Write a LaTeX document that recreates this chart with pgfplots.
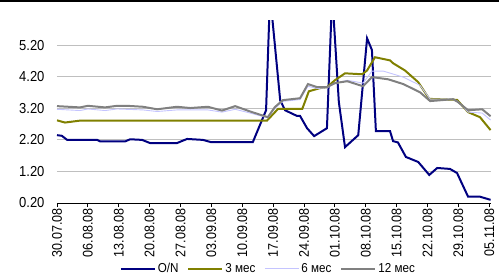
\documentclass[border=0pt]{standalone}
\usepackage{pgfplots}
\pgfplotsset{compat=1.18}
\usepackage{fontspec}
\setmainfont[FakeStretch=0.9]{Liberation Sans}
\definecolor{cON}{HTML}{000080}
\definecolor{cM3}{HTML}{808000}
\definecolor{cM6}{HTML}{C4C4FF}
\definecolor{cM12}{HTML}{808080}
\begin{document}
\begin{tikzpicture}[x=1bp,y=1bp]
\path[use as bounding box] (-57bp,-73bp) rectangle (442bp,203bp);
\draw[black, line width=1.6bp] (-57bp,202.2bp) -- (442bp,202.2bp);
\begin{axis}[
  at={(0,0)}, anchor=origin,
  scale only axis, width=434bp, height=183bp,
  xmin=0, xmax=98.4, ymin=0.2, ymax=6.0,
  axis x line*=bottom, axis y line*=left,
  y axis line style={draw=none},
  x axis line style={black, line width=0.9pt},
  ytick={0.2,1.2,2.2,3.2,4.2,5.2},
  yticklabels={0.20,1.20,2.20,3.20,4.20,5.20},
  ytick style={draw=none},
  ymajorgrids, grid style={color=black!25, line width=0.8pt},
  xtick={0,7,14,21,28,35,42,49,56,63,70,77,84,91,98},
  xticklabels={30.07.08,06.08.08,13.08.08,20.08.08,27.08.08,03.09.08,10.09.08,17.09.08,24.09.08,01.10.08,08.10.08,15.10.08,22.10.08,29.10.08,05.11.08},
  xtick style={black, line width=0.8pt},
  tick align=outside, major tick length=4bp,
  x tick label style={rotate=90, anchor=east, font=\fontsize{14}{15}\selectfont, inner sep=1bp},
  y tick label style={font=\fontsize{14.5}{15}\selectfont, xshift=-5bp},
  clip=true,
  legend columns=4,
  legend style={draw=none, fill=none, at={(0.487,-0.36)}, anchor=center,
     font=\fontsize{13}{14}\selectfont, inner sep=0pt,
     /tikz/every even column/.append style={column sep=7bp}},
  legend image code/.code={\draw[#1] (0bp,0bp) -- (34bp,0bp);},
]
\addplot[cON, line width=2pt] coordinates {
(0,2.35)(1.1,2.33)(2.3,2.2)(9.1,2.2)(9.8,2.15)(15.4,2.15)(16.6,2.22)(19.3,2.2)(21.1,2.1)(27.2,2.1)(29.5,2.23)(33.1,2.2)(34.9,2.13)(44.4,2.13)(47.4,3.14)(48.3,6.8)(50.6,3.46)(51.7,3.14)(54.4,2.96)(55.1,2.96)(56.7,2.57)(58.3,2.32)(61.2,2.57)(62.4,6.8)(63.9,3.4)(65.3,1.97)(68.3,2.35)(70.3,5.42)(71.4,5.05)(72.3,2.48)(75.5,2.48)(76.2,2.16)(77.3,2.12)(79.1,1.66)(81.9,1.5)(84.4,1.09)(86.2,1.31)(89.1,1.28)(90.7,1.15)(93.2,0.4)(95.9,0.4)(98.3,0.3)
};
\addlegendentry{O/N}
\addplot[cM3, line width=2pt] coordinates {
(0,2.82)(1.8,2.75)(5.2,2.81)(47.6,2.81)(50.1,3.18)(55.6,3.18)(57.1,3.74)(59.6,3.84)(61.2,3.87)(63,4.09)(65.3,4.31)(69.2,4.28)(70.3,4.4)(72.1,4.82)(75.5,4.72)(76.2,4.63)(78.9,4.4)(81.9,4.03)(84.4,3.5)(90.7,3.47)(93.2,3.08)(95.9,2.92)(98.3,2.51)
};
\addlegendentry{3 мес}
\addplot[cM6, line width=0.9pt] coordinates {
(0,3.17)(5.2,3.13)(7,3.18)(10.9,3.13)(13.6,3.18)(19.5,3.15)(22.7,3.1)(27.2,3.15)(34.2,3.15)(37.4,3.08)(40.4,3.17)(43.8,3.05)(47.8,2.9)(49.4,3.2)(51.2,3.42)(55.1,3.48)(56.9,3.9)(59,3.83)(61.2,3.85)(63,3.98)(65.8,4.09)(69.4,4.0)(71.4,4.38)(74,4.38)(78.5,4.19)(82.3,3.93)(84.6,3.49)(89.8,3.49)(90.9,3.42)(93.2,3.08)(96.4,3.05)(98.3,2.83)
};
\addlegendentry{6 мес}
\addplot[cM12, line width=2pt] coordinates {
(0,3.27)(5.2,3.23)(7,3.28)(10.9,3.23)(13.6,3.28)(15.9,3.28)(19.5,3.25)(22.7,3.17)(27.2,3.25)(30.2,3.21)(34.2,3.25)(37.4,3.13)(40.4,3.27)(43.8,3.1)(47.8,2.92)(49.4,3.24)(51.2,3.46)(55.1,3.52)(56.9,3.97)(59,3.87)(61.2,3.87)(63,4.0)(65.8,4.06)(69.4,3.9)(71.4,4.19)(75.1,4.12)(78.5,3.97)(82.3,3.71)(84.6,3.43)(89.8,3.49)(90.9,3.4)(93.2,3.14)(96.4,3.17)(98.3,2.95)
};
\addlegendentry{12 мес}
\end{axis}
\end{tikzpicture}
\end{document}
